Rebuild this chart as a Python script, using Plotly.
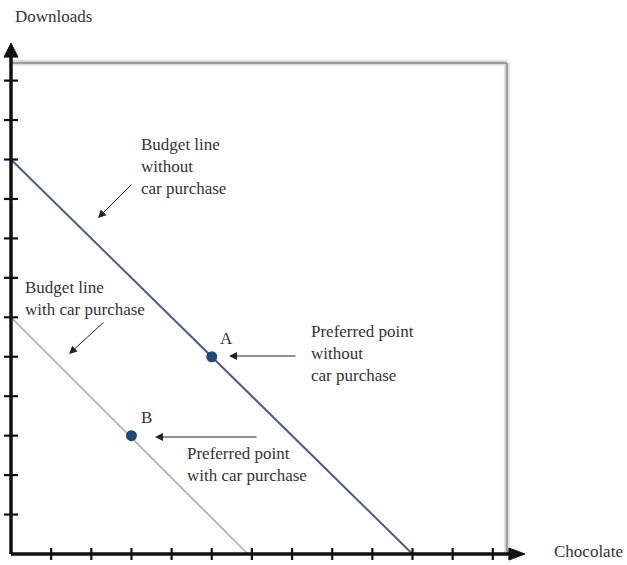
import plotly.graph_objects as go

# ---- data ----
budget_without_x = [0, 10]
budget_without_y = [10, 0]
budget_with_x = [0, 5.9]
budget_with_y = [6, 0]
point_labels = ["A", "B"]
point_x = [5, 3]
point_y = [5, 3]
x_ticks = list(range(1, 13))
y_ticks = list(range(1, 13))
x_axis_end = 12.8
y_axis_end = 12.95
frame_right = 12.35
frame_top = 12.45

W, H = 627, 565
X0, UX = 11, 40.15
Y0, UY = 554, 39.45

FONT = dict(family="Liberation Serif, Times New Roman, serif", size=17, color="#333333")

fig = go.Figure()

# budget lines
fig.add_trace(go.Scatter(x=budget_without_x, y=budget_without_y, mode="lines",
                         line=dict(color="#4d5d86", width=2), hoverinfo="skip"))
fig.add_trace(go.Scatter(x=budget_with_x, y=budget_with_y, mode="lines",
                         line=dict(color="#9fb0c8", width=1.6), hoverinfo="skip"))
# preferred points
fig.add_trace(go.Scatter(x=point_x, y=point_y, mode="markers",
                         marker=dict(color="#1e4a78", size=11), hoverinfo="skip"))

shapes = []
# frame with soft shadow
for col, w in [("#e2e2e2", 6), ("#9c9c9c", 2.2)]:
    shapes.append(dict(type="line", xref="x", yref="y", x0=0, y0=frame_top, x1=frame_right, y1=frame_top,
                       line=dict(color=col, width=w)))
    shapes.append(dict(type="line", xref="x", yref="y", x0=frame_right, y0=frame_top, x1=frame_right, y1=0,
                       line=dict(color=col, width=w)))

# axes lines
shapes.append(dict(type="line", xref="x", yref="y", x0=0, y0=0, x1=x_axis_end - 0.3, y1=0,
                   line=dict(color="#111111", width=3.5)))
shapes.append(dict(type="line", xref="x", yref="y", x0=0, y0=0, x1=0, y1=y_axis_end - 0.3,
                   line=dict(color="#111111", width=3.5)))
# arrow heads (pixel-sized paths anchored at axis ends)
shapes.append(dict(type="path", xref="x", yref="y", xsizemode="pixel", ysizemode="pixel",
                   xanchor=x_axis_end, yanchor=0, path="M0,0 L-16,6 L-16,-6 Z",
                   fillcolor="#111111", line=dict(color="#111111", width=1)))
shapes.append(dict(type="path", xref="x", yref="y", xsizemode="pixel", ysizemode="pixel",
                   xanchor=0, yanchor=y_axis_end, path="M0,0 L-7,-14 L7,-14 Z",
                   fillcolor="#111111", line=dict(color="#111111", width=1)))
# tick marks
for t in x_ticks:
    shapes.append(dict(type="line", xref="x", yref="y", ysizemode="pixel", yanchor=0,
                       x0=t, x1=t, y0=-6, y1=6, line=dict(color="#111111", width=2.2)))
for t in y_ticks:
    shapes.append(dict(type="line", xref="x", yref="y", xsizemode="pixel", xanchor=0,
                       x0=-7, x1=7, y0=t, y1=t, line=dict(color="#111111", width=2.2)))


def px(x):
    return x / W


def py(y):
    return 1 - y / H


annotations = []
texts = [
    ("Downloads", 13, 17),
    ("Chocolate", 552, 551),
    ("Budget line<br>without<br>car purchase", 139, 167),
    ("Budget line<br>with car purchase", 23, 298),
    ("Preferred point<br>without<br>car purchase", 309, 353),
    ("Preferred point<br>with car purchase", 185, 464),
]
for t, x, y in texts:
    annotations.append(dict(text=t, x=px(x), y=py(y), xref="paper", yref="paper",
                            xanchor="left", yanchor="middle", align="left",
                            showarrow=False, font=FONT))
# point labels
for lab, x, y in zip(point_labels, point_x, point_y):
    annotations.append(dict(text=lab, x=x, y=y, xref="x", yref="y", xshift=15, yshift=18,
                            showarrow=False, font=FONT))

arrows = [
    ((98, 218), (133, 183)),
    ((69, 354), (105, 321)),
    ((229, 356), (297, 356)),
    ((155, 437), (258, 437)),
]
for (hx, hy), (tx, ty) in arrows:
    annotations.append(dict(text="", x=px(hx), y=py(hy), xref="paper", yref="paper",
                            ax=tx - hx, ay=ty - hy, showarrow=True, arrowhead=2,
                            arrowsize=1.6, arrowwidth=1, arrowcolor="#222222", standoff=0))

fig.update_layout(
    width=W, height=H,
    margin=dict(l=0, r=0, t=0, b=0),
    paper_bgcolor="white", plot_bgcolor="white",
    showlegend=False,
    xaxis=dict(range=[-X0 / UX, (W - X0) / UX], visible=False, fixedrange=True),
    yaxis=dict(range=[(Y0 - H) / UY, Y0 / UY], visible=False, fixedrange=True),
    shapes=shapes,
    annotations=annotations,
)

fig.write_html("out.html", config={"displayModeBar": False},
               post_script="document.body.style.margin='0';document.body.style.overflow='hidden';")
